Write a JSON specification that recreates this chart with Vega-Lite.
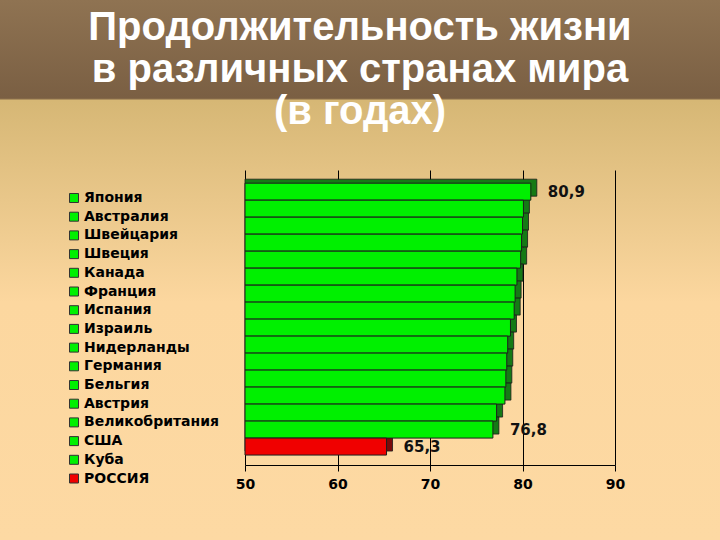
{
  "$schema": "https://vega.github.io/schema/vega-lite/v6.json",
  "padding": 0,
  "background": "#FCD8A0",
  "spacing": -720,
  "align": "none",
  "resolve": {"legend": {"color": "independent"}, "scale": {"color": "independent"}},
  "config": {"view": {"stroke": null}, "font": "DejaVu Sans"},
  "hconcat": [
    {
      "width": 720,
      "height": 540,
      "view": {
        "stroke": null,
        "fill": {
          "gradient": "linear", "x1": 0, "y1": 0, "x2": 0, "y2": 1,
          "stops": [
            {"offset": 0, "color": "#8F7352"},
            {"offset": 0.182, "color": "#7A5F43"},
            {"offset": 0.186, "color": "#D6B775"},
            {"offset": 0.56, "color": "#FCD79F"},
            {"offset": 1, "color": "#FDD9A3"}
          ]
        }
      },
      "title": {
        "text": ["Продолжительность жизни", "в различных странах мира", "(в годах)"],
        "font": "Liberation Sans",
        "fontSize": 40,
        "fontWeight": "bold",
        "color": "#FFFFFF",
        "lineHeight": 42,
        "anchor": "middle",
        "frame": "group",
        "offset": -132
      },
      "data": {"values": [{}]},
      "mark": {"type": "text"},
      "encoding": {"text": {"value": ""}}
    },
    {
      "spacing": 0,
      "align": "none",
      "resolve": {"legend": {"color": "independent"}, "scale": {"color": "independent"}},
      "vconcat": [
        {
          "width": 1,
          "height": 124,
          "data": {"values": [{}]},
          "mark": {"type": "text"},
          "encoding": {"text": {"value": ""}}
        },
        {
          "width": 370,
          "height": 295,
          "data": {
            "values": [
              {"country": "Япония", "value": 80.9, "label": "80,9"},
              {"country": "Австралия", "value": 80.1, "label": ""},
              {"country": "Швейцария", "value": 80.0, "label": ""},
              {"country": "Швеция", "value": 79.9, "label": ""},
              {"country": "Канада", "value": 79.8, "label": ""},
              {"country": "Франция", "value": 79.4, "label": ""},
              {"country": "Испания", "value": 79.2, "label": ""},
              {"country": "Израиль", "value": 79.1, "label": ""},
              {"country": "Нидерланды", "value": 78.7, "label": ""},
              {"country": "Германия", "value": 78.4, "label": ""},
              {"country": "Бельгия", "value": 78.3, "label": ""},
              {"country": "Австрия", "value": 78.2, "label": ""},
              {"country": "Великобритания", "value": 78.1, "label": ""},
              {"country": "США", "value": 77.2, "label": ""},
              {"country": "Куба", "value": 76.8, "label": "76,8"},
              {"country": "РОССИЯ", "value": 65.3, "label": "65,3"}
            ]
          },
          "encoding": {
            "y": {
              "field": "country", "type": "nominal", "sort": null,
              "scale": {"paddingInner": 0, "paddingOuter": 0.68, "align": 0.57},
              "axis": null
            }
          },
          "layer": [
            {
              "mark": {"type": "bar", "xOffset": 6, "yOffset": -4, "stroke": "#1a1a1a", "strokeWidth": 0.8},
              "encoding": {
                "x": {
                  "field": "value", "type": "quantitative",
                  "scale": {"domain": [50, 90], "zero": false, "nice": false},
                  "axis": {
                    "values": [50, 60, 70, 80, 90],
                    "title": null,
                    "grid": true, "gridColor": "#000000", "gridWidth": 1, "gridOpacity": 1,
                    "domainColor": "#000000", "domainWidth": 1,
                    "tickColor": "#000000", "tickSize": 6,
                    "labelFont": "DejaVu Sans", "labelFontWeight": "bold", "labelFontSize": 14,
                    "labelColor": "#000000", "labelPadding": 6, "labelFlush": false
                  }
                },
                "x2": {"datum": 50},
                "color": {
                  "condition": {"test": "datum.country === 'РОССИЯ'", "value": "#7A0A0A"},
                  "value": "#157A15"
                }
              }
            },
            {
              "mark": {"type": "bar", "stroke": "#1e1e1e", "strokeWidth": 1},
              "encoding": {
                "x": {"field": "value", "type": "quantitative"},
                "x2": {"datum": 50},
                "color": {
                  "field": "country", "type": "nominal", "sort": null,
                  "scale": {
                    "domain": ["Япония", "Австралия", "Швейцария", "Швеция", "Канада", "Франция", "Испания", "Израиль", "Нидерланды", "Германия", "Бельгия", "Австрия", "Великобритания", "США", "Куба", "РОССИЯ"],
                    "range": ["#00F000", "#00F000", "#00F000", "#00F000", "#00F000", "#00F000", "#00F000", "#00F000", "#00F000", "#00F000", "#00F000", "#00F000", "#00F000", "#00F000", "#00F000", "#F00000"]
                  },
                  "legend": {
                    "orient": "none", "legendX": -245, "legendY": -46, "padding": 67,
                    "title": null,
                    "symbolType": "square", "symbolSize": 81,
                    "symbolStrokeColor": "#333333", "symbolStrokeWidth": 1, "symbolOpacity": 1,
                    "labelFont": "DejaVu Sans", "labelFontWeight": "bold", "labelFontSize": 14,
                    "labelColor": "#000000", "labelOffset": 3, "rowPadding": 4.7, "labelLimit": 300
                  }
                }
              }
            },
            {
              "mark": {"type": "text", "align": "left", "dx": 17, "font": "DejaVu Sans", "fontSize": 15, "fontWeight": "bold", "color": "#111111"},
              "encoding": {
                "x": {"field": "value", "type": "quantitative"},
                "text": {"field": "label"}
              }
            }
          ]
        }
      ]
    }
  ]
}
